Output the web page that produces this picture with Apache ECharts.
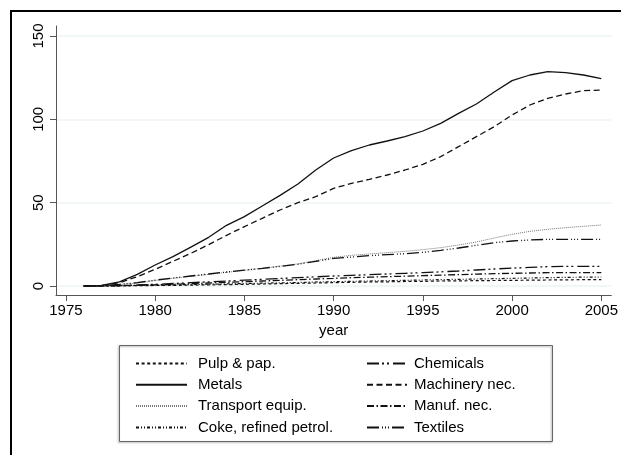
<!DOCTYPE html>
<html>
<head>
<meta charset="utf-8">
<script src="https://cdn.jsdelivr.net/npm/echarts@6/dist/echarts.min.js"></script>
<style>
html,body{margin:0;padding:0;background:#fff;}
#chart{width:621px;height:455px;}
</style>
</head>
<body>
<div id="chart"></div>
<script>
const years = [1976,1977,1978,1979,1980,1981,1982,1983,1984,1985,1986,1987,1988,1989,1990,1991,1992,1993,1994,1995,1996,1997,1998,1999,2000,2001,2002,2003,2004,2005];
const xTicks = [1975,1980,1985,1990,1995,2000,2005];
const yTicks = [0,50,100,150];

const pulp      = [0,0,0.1,0.2,0.3,0.4,0.5,0.7,0.8,1,1.2,1.4,1.6,1.8,2,2.2,2.4,2.5,2.7,2.8,3,3.1,3.2,3.3,3.4,3.5,3.6,3.7,3.8,3.8];
const chemicals = [0,0.1,0.3,0.6,1,1.5,2,2.5,3,3.5,4,4.5,5,5.5,6,6.4,6.8,7.2,7.6,8,8.5,9,9.6,10.2,10.7,11.2,11.6,11.8,11.8,11.8];
const metals    = [0,0.3,2.5,7,12.6,17.6,23.3,29.2,36.4,41.6,48,54.4,61.2,69.6,76.8,81.2,84.6,87,89.6,93,97.6,103.6,109.2,116.4,123.2,126.6,128.6,128,126.6,124.4];
const machinery = [0,0.2,2,5.6,10,14.8,19.6,24.8,30.4,35.6,40.6,45.6,50,53.6,58.6,61.6,64,66.6,69.6,73,77.6,83.6,89.6,95.6,102.6,108.6,112.6,115.2,117.2,117.6];
const transport = [0,0.2,0.8,1.8,3.3,4.6,5.8,7.0,8.2,9.4,10.6,11.9,13.3,15.2,17.2,18.4,19.2,20,20.8,21.8,23,24.6,26.4,28.8,31,32.8,34,35,35.8,36.6];
const manuf     = [0,0,0.2,0.4,0.7,1,1.4,1.8,2.2,2.6,3,3.4,3.8,4.2,4.6,5,5.3,5.6,5.9,6.2,6.5,6.8,7.1,7.4,7.6,7.8,8,8,8,8];
const coke      = [0,0,0.1,0.3,0.5,0.7,0.9,1.1,1.3,1.5,1.7,1.9,2.1,2.4,2.6,2.8,3,3.2,3.4,3.6,3.8,4,4.2,4.4,4.6,4.8,5,5.2,5.3,5.4];
const textiles  = [0,0.3,1,2,3.5,4.8,6,7.2,8.4,9.5,10.6,11.8,13,14.8,16.6,17.4,18.2,18.8,19.4,20.2,21.4,22.8,24.4,26,27,27.6,28,28,28,28];

const names = ['Pulp & pap.','Chemicals','Metals','Machinery nec.','Transport equip.','Manuf. nec.','Coke, refined petrol.','Textiles'];
const values = [pulp, chemicals, metals, machinery, transport, manuf, coke, textiles];
const styles = [
  {type:[3,2.6], width:1.2, color:'#111'},
  {type:[12,3,2,3,2,4], width:1.3, color:'#111'},
  {type:'solid', width:1.3, color:'#111'},
  {type:[6,3.5], width:1.3, color:'#111'},
  {type:[1,1], width:1, color:'#777'},
  {type:[7,2.5,1.5,2.5], width:1.3, color:'#111'},
  {type:[3,2,1,2,1,2], width:1.2, color:'#111'},
  {type:[12,3,1,2,1,2,1,3], width:1.3, color:'#111'}
];

const series = names.map((n,i)=>({
  name:n, type:'line', symbol:'none', smooth:false,
  data: years.map((y,j)=>[y, values[i][j]]),
  lineStyle: {color:styles[i].color, width:styles[i].width, type:styles[i].type},
  itemStyle: {color:styles[i].color},
  emphasis:{disabled:true},
  z: 3
}));

const font = 'Liberation Sans, Arial, Helvetica, sans-serif';
const chart = echarts.init(document.getElementById('chart'), null, {renderer:'canvas'});
chart.setOption({
  animation:false,
  backgroundColor:'#fff',
  grid:{left:56, right:4, top:26, bottom:160, containLabel:false},
  xAxis:{
    type:'value', min:1974.445, max:2005.56,
    name:'year', nameLocation:'middle', nameGap:26,
    nameTextStyle:{fontFamily:font, fontSize:15, color:'#000'},
    axisLine:{show:true, onZero:false, lineStyle:{color:'#555', width:1}},
    axisTick:{show:true, length:6, customValues:xTicks, lineStyle:{color:'#555'}},
    axisLabel:{customValues:xTicks, margin:8, fontFamily:font, fontSize:15, color:'#000', formatter:v=>String(v)},
    splitLine:{show:false}
  },
  yAxis:{
    type:'value', min:-5.4, max:156,
    axisLine:{show:true, onZero:false, lineStyle:{color:'#555', width:1}},
    axisTick:{show:true, length:6, customValues:yTicks, lineStyle:{color:'#555'}},
    axisLabel:{customValues:yTicks, rotate:90, margin:10, fontFamily:font, fontSize:15, color:'#000', formatter:v=>String(v)},
    splitLine:{show:true, lineStyle:{color:'#edf3f5', width:1.5}}
  },
  legend:[
    {data:['Pulp & pap.','Metals','Transport equip.','Coke, refined petrol.'], orient:'vertical', left:135, top:356, padding:0,
     itemWidth:51, itemHeight:14, itemGap:6.3, selectedMode:false,
     itemStyle:{opacity:0},
     textStyle:{fontFamily:font, fontSize:15, color:'#000', padding:[0,0,0,6]}},
    {data:['Chemicals','Machinery nec.','Manuf. nec.','Textiles'], orient:'vertical', left:366, top:356, padding:0,
     itemWidth:40, itemHeight:14, itemGap:6.3, selectedMode:false,
     itemStyle:{opacity:0},
     textStyle:{fontFamily:font, fontSize:15, color:'#000', padding:[0,0,0,2]}}
  ],
  graphic:[
    {type:'rect', shape:{x:11, y:11, width:700, height:500}, style:{fill:'none', stroke:'#000', lineWidth:2}, silent:true, z:100},
    {type:'rect', shape:{x:119.5, y:345.5, width:433, height:96}, style:{fill:'none', stroke:'#666', lineWidth:1, shadowColor:'rgba(0,0,0,0.35)', shadowBlur:2, shadowOffsetX:-1, shadowOffsetY:1}, silent:true, z:50}
  ],
  series: series
});
</script>
</body>
</html>
